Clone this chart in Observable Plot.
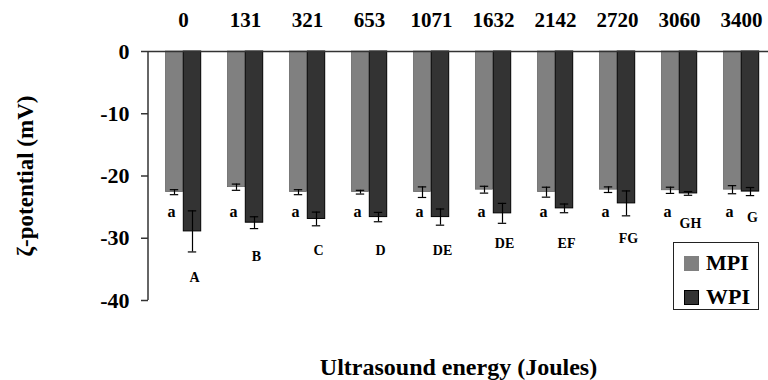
<!DOCTYPE html>
<html>
<head>
<meta charset="utf-8">
<script src="https://cdn.jsdelivr.net/npm/d3@7"></script>
<script src="https://cdn.jsdelivr.net/npm/@observablehq/plot@0.6"></script>
<style>
  html, body { margin: 0; padding: 0; background: #fff; }
  #wrap { position: relative; width: 768px; height: 380px; font-family: "Liberation Serif", "Times New Roman", serif; font-weight: bold; }
  #legend { position: absolute; left: 673px; top: 242px; width: 84px; height: 66px; border: 1px solid #222; background: #fff; }
  .item { position: absolute; left: 10px; height: 22px; display: flex; align-items: center; }
  .sw { width: 15px; height: 15px; box-sizing: border-box; margin-right: 7px; }
  .lab { font-size: 22px; line-height: 22px; color: #000; }
</style>
</head>
<body>
<div id="wrap">
  <div id="chart"></div>
  <div id="legend">
    <div class="item" style="top:9px"><div class="sw" style="background:#808080"></div><span class="lab">MPI</span></div>
    <div class="item" style="top:43px"><div class="sw" style="background:#333333;border:1px solid #000"></div><span class="lab">WPI</span></div>
  </div>
</div>
<script>
const energies = ["0", "131", "321", "653", "1071", "1632", "2142", "2720", "3060", "3400"];
const mpiMean = [-22.6, -21.8, -22.6, -22.6, -22.6, -22.2, -22.6, -22.2, -22.3, -22.2];
const mpiErr  = [0.4, 0.5, 0.4, 0.3, 0.85, 0.55, 0.8, 0.45, 0.5, 0.65];
const wpiMean = [-28.9, -27.5, -26.9, -26.6, -26.6, -26.0, -25.2, -24.4, -22.8, -22.5];
const wpiErr  = [3.3, 0.95, 1.1, 0.75, 1.3, 1.6, 0.7, 2.0, 0.3, 0.65];
const mpiLetters = ["a", "a", "a", "a", "a", "a", "a", "a", "a", "a"];
const mpiLetterY = [-25.8, -25.8, -25.8, -25.8, -25.8, -25.8, -25.8, -25.8, -25.8, -25.8];
const wpiLetters = ["A", "B", "C", "D", "DE", "DE", "EF", "FG", "GH", "G"];
const wpiLetterY = [-36.3, -32.9, -31.9, -31.9, -31.9, -30.9, -30.9, -30.0, -27.7, -26.6];
const yTicks = [0, -10, -20, -30, -40];

const rows = energies.map((e, i) => ({
  energy: e,
  mpi: mpiMean[i], mpiLo: mpiMean[i] - mpiErr[i], mpiHi: mpiMean[i] + mpiErr[i],
  wpi: wpiMean[i], wpiLo: wpiMean[i] - wpiErr[i], wpiHi: wpiMean[i] + wpiErr[i],
  la: mpiLetters[i], laY: mpiLetterY[i],
  lb: wpiLetters[i], lbY: wpiLetterY[i]
}));

const bw = 62.6, barW = 18, capW = 9;
const inA = bw / 2 - barW;
const capIn = (bw - capW) / 2;

const plot = Plot.plot({
  width: 768,
  height: 380,
  marginTop: 51,
  marginBottom: 80,
  marginLeft: 148,
  marginRight: 0,
  style: { fontFamily: "'Liberation Serif', 'Times New Roman', serif", fontWeight: "bold", color: "#000", background: "#fff" },
  x: { domain: energies, range: [149, 775], padding: 0, axis: null },
  y: { domain: [-40, 0], axis: null },
  marks: [
    Plot.barY(rows, { x: "energy", y: "mpi", fill: "#808080", stroke: "#5a5a5a", strokeWidth: 0.6, insetLeft: inA, insetRight: bw / 2 }),
    Plot.barY(rows, { x: "energy", y: "wpi", fill: "#333333", stroke: "#000", strokeWidth: 1, insetLeft: bw / 2, insetRight: inA }),
    Plot.ruleX(rows, { x: "energy", y1: "mpiLo", y2: "mpiHi", dx: -barW / 2, stroke: "#000", strokeWidth: 1.2 }),
    Plot.tickY(rows, { x: "energy", y: "mpiLo", dx: -barW / 2, insetLeft: capIn, insetRight: capIn, stroke: "#000", strokeWidth: 1.2 }),
    Plot.tickY(rows, { x: "energy", y: "mpiHi", dx: -barW / 2, insetLeft: capIn, insetRight: capIn, stroke: "#000", strokeWidth: 1.2 }),
    Plot.ruleX(rows, { x: "energy", y1: "wpiLo", y2: "wpiHi", dx: barW / 2, stroke: "#000", strokeWidth: 1.2 }),
    Plot.tickY(rows, { x: "energy", y: "wpiLo", dx: barW / 2, insetLeft: capIn, insetRight: capIn, stroke: "#000", strokeWidth: 1.2 }),
    Plot.tickY(rows, { x: "energy", y: "wpiHi", dx: barW / 2, insetLeft: capIn, insetRight: capIn, stroke: "#000", strokeWidth: 1.2 }),
    Plot.text(rows, { x: "energy", y: "laY", text: "la", dx: -12, fontSize: 16, fill: "#000" }),
    Plot.text(rows, { x: "energy", y: "lbY", text: "lb", dx: 11, fontSize: 14, fill: "#000" }),
    Plot.ruleY([0], { stroke: "#333", strokeWidth: 1.5 }),
    (index, scales, values, dims) => d3.create("svg:line")
      .attr("x1", dims.marginLeft).attr("x2", dims.marginLeft)
      .attr("y1", scales.y(0)).attr("y2", scales.y(-40))
      .attr("stroke", "#333").attr("stroke-width", 1.5).node(),
    Plot.axisX({ anchor: "top", tickSize: 0, tickPadding: 25, fontSize: 21, label: null }),
    Plot.axisY({ ticks: yTicks, tickSize: 7, tickPadding: 12, fontSize: 22, tickFormat: d => String(d), label: null, stroke: "#333", strokeWidth: 1.5 }),
    Plot.text(["ζ-potential (mV)"], { frameAnchor: "left", textAnchor: "middle", dx: -123, rotate: -90, fontSize: 23, fill: "#000" }),
    Plot.text(["Ultrasound energy (Joules)"], { frameAnchor: "bottom", dy: 74, fontSize: 24, fill: "#000" })
  ]
});
document.getElementById("chart").appendChild(plot);
</script>
</body>
</html>
